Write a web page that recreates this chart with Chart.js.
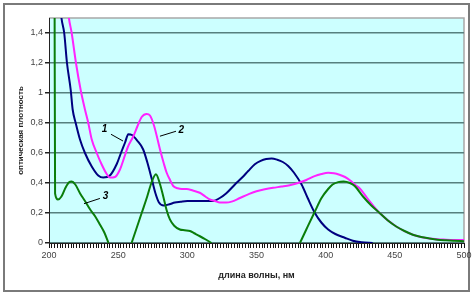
<!DOCTYPE html>
<html lang="ru">
<head>
  <meta charset="UTF-8">
  <title>Спектры поглощения</title>
  <script src="https://cdn.jsdelivr.net/npm/chart.js"></script>
  <style>
    body { margin: 0; background: #fff; }
    #wrap { width: 476px; height: 297px; }
  </style>
</head>
<body>
  <div id="wrap"><canvas id="spectra" width="476" height="297"></canvas></div>
  <script>
    // длина волны (нм) и оптическая плотность
    const wl1 = [206, 209, 211, 213, 215.7, 217.1, 219.3, 222.4, 226, 230.9, 235.6, 239.2, 244, 248.9, 252, 255, 257.3, 260, 264, 268, 271, 274.2, 277, 279.5, 283, 287, 291, 295, 300, 310, 318.7, 323.5, 328, 334.4, 340, 344, 348.8, 353, 357, 360.9, 365, 369, 372.9, 377, 382.6, 387, 392.2, 397, 401.8, 407, 413.8, 419.6, 426, 434];
    const od1 = [1.8, 1.5, 1.4, 1.2, 1.02, 0.89, 0.8, 0.69, 0.6, 0.51, 0.45, 0.436, 0.45, 0.525, 0.6, 0.67, 0.725, 0.72, 0.68, 0.625, 0.54, 0.43, 0.33, 0.27, 0.25, 0.258, 0.27, 0.275, 0.28, 0.28, 0.28, 0.3, 0.33, 0.39, 0.44, 0.48, 0.525, 0.548, 0.56, 0.563, 0.555, 0.54, 0.514, 0.47, 0.39, 0.3, 0.2, 0.135, 0.09, 0.06, 0.035, 0.015, 0.005, 0];

    const wl2 = [211, 214.4, 216.4, 219.5, 222.9, 226, 228.4, 230.9, 234.5, 238, 241.7, 244, 247.7, 251.3, 254, 257, 260.9, 264, 267, 270.6, 273, 276, 280.2, 283, 285, 287.5, 289.8, 293, 296, 299.5, 304, 309, 313, 316.3, 320, 323.5, 328, 332, 338, 344, 350, 356, 362, 368, 374, 380, 386, 392, 397, 401.8, 406, 410, 414, 418, 421, 425, 430, 439, 451, 463, 475, 487, 500];
    const od2 = [1.8, 1.5, 1.4, 1.2, 1.02, 0.89, 0.8, 0.69, 0.6, 0.525, 0.46, 0.436, 0.44, 0.49, 0.56, 0.64, 0.71, 0.78, 0.84, 0.86, 0.85, 0.78, 0.625, 0.53, 0.47, 0.42, 0.38, 0.365, 0.36, 0.36, 0.35, 0.335, 0.31, 0.29, 0.28, 0.27, 0.27, 0.276, 0.3, 0.324, 0.345, 0.358, 0.368, 0.376, 0.385, 0.4, 0.42, 0.446, 0.46, 0.468, 0.465, 0.455, 0.44, 0.415, 0.39, 0.36, 0.3, 0.2, 0.11, 0.055, 0.03, 0.022, 0.02];

    const wl3 = [204, 204.4, 206.5, 209, 212, 214.5, 216.4, 219, 222.5, 226, 230, 233.2, 237, 240, 243, 250,
                 259.7, 263, 267, 271, 274, 277.3, 280, 282.6, 285, 287.4, 290.5, 294.6, 298, 301.9, 305, 309.1, 313, 317.5, 350,
                 381.4, 386, 392.2, 397, 401.8, 405, 409, 413, 417.5, 421, 427, 433, 439, 445, 451, 457, 463, 469, 475, 481, 487, 493, 500];
    const od3 = [1.8, 0.33, 0.29, 0.31, 0.37, 0.405, 0.41, 0.39, 0.33, 0.28, 0.22, 0.18, 0.12, 0.07, 0, null,
                 0, 0.09, 0.2, 0.31, 0.4, 0.458, 0.4, 0.31, 0.22, 0.157, 0.115, 0.09, 0.085, 0.08, 0.065, 0.045, 0.025, 0, null,
                 0, 0.09, 0.21, 0.3, 0.36, 0.39, 0.406, 0.41, 0.4, 0.38, 0.31, 0.25, 0.2, 0.15, 0.11, 0.08, 0.055, 0.04, 0.03, 0.022, 0.018, 0.015, 0.012];

    // номера кривых и выноски (в единицах данных)
    const curveLabels = [
      { text: '1', tx: 240.2, ty: 0.76, x1: 244.8, y1: 0.725, x2: 253.5, y2: 0.68 },
      { text: '2', tx: 295.6, ty: 0.755, x1: 280.2, y1: 0.712, x2: 291.8, y2: 0.745 },
      { text: '3', tx: 240.8, ty: 0.31, x1: 225.3, y1: 0.262, x2: 236.8, y2: 0.297 }
    ];

    const xTitle = 'длина волны, нм';
    const yTitle = 'оптическая плотность';

    const pts = (xs, ys) => xs.map((x, i) => ({ x: x, y: ys[i] }));

    const frame = {
      id: 'frame',
      beforeDraw(chart) {
        const c = chart.ctx, a = chart.chartArea;
        c.save();
        c.fillStyle = '#fff';
        c.fillRect(0, 0, chart.width, chart.height);
        c.strokeStyle = '#7a7a7a';
        c.lineWidth = 2;
        c.strokeRect(4, 4, 465, 287);
        c.fillStyle = '#ccffff';
        c.fillRect(a.left, a.top, a.right - a.left, a.bottom - a.top);
        c.strokeStyle = '#a8a8a8';
        c.lineWidth = 1.5;
        c.beginPath();
        c.moveTo(a.left, a.top);
        c.lineTo(a.right, a.top);
        c.lineTo(a.right, a.bottom);
        c.stroke();
        c.restore();
      },
      afterDatasetsDraw(chart) {
        const c = chart.ctx, xs = chart.scales.x, ys = chart.scales.y;
        c.save();
        c.strokeStyle = '#000';
        c.lineWidth = 1;
        c.fillStyle = '#000';
        c.font = 'italic bold 10px "Liberation Sans", Arial, sans-serif';
        c.textAlign = 'center';
        c.textBaseline = 'middle';
        curveLabels.forEach(l => {
          c.beginPath();
          c.moveTo(xs.getPixelForValue(l.x1), ys.getPixelForValue(l.y1));
          c.lineTo(xs.getPixelForValue(l.x2), ys.getPixelForValue(l.y2));
          c.stroke();
          c.fillText(l.text, xs.getPixelForValue(l.tx), ys.getPixelForValue(l.ty));
        });
        c.restore();
      }
    };

    const tickFont = { family: '"Liberation Sans", Arial, sans-serif', size: 9 };

    new Chart(document.getElementById('spectra'), {
      type: 'line',
      data: {
        datasets: [
          { label: '3', data: pts(wl3, od3), borderColor: '#0a7d0a', order: 1 },
          { label: '2', data: pts(wl2, od2), borderColor: '#ff22ff', order: 2 },
          { label: '1', data: pts(wl1, od1), borderColor: '#000080', order: 3 }
        ]
      },
      options: {
        responsive: false,
        animation: false,
        spanGaps: false,
        layout: { padding: { left: 0, top: 18, right: 12, bottom: 0 } },
        elements: {
          point: { radius: 0 },
          line: { borderWidth: 2, cubicInterpolationMode: 'monotone', fill: false }
        },
        plugins: { legend: { display: false }, tooltip: { enabled: false } },
        scales: {
          x: {
            type: 'linear',
            min: 200, max: 500,
            afterFit: s => { s.height = 54; },
            ticks: {
              stepSize: 2, maxTicksLimit: 200, autoSkip: false, maxRotation: 0, padding: 2,
              color: '#444', font: tickFont,
              callback: v => (v % 50 === 0 ? String(v) : '')
            },
            grid: { display: true, drawTicks: true, drawOnChartArea: false, tickLength: 5, tickColor: '#111', tickWidth: 1 },
            border: { color: '#222', width: 1 },
            title: {
              display: true, text: xTitle, color: '#222',
              font: { family: '"Liberation Sans", Arial, sans-serif', size: 9, weight: 'bold' },
              padding: { top: 0, bottom: 16 }
            }
          },
          y: {
            min: 0, max: 1.5,
            afterFit: s => { s.width = 49; },
            afterBuildTicks: s => { s.ticks = s.ticks.filter(t => t.value < 1.45); },
            ticks: {
              stepSize: 0.2, padding: 2, color: '#444', font: tickFont,
              callback: v => String(Math.round(v * 10) / 10).replace('.', ',')
            },
            grid: { color: '#56807f', lineWidth: 1.5, tickLength: 4, tickColor: '#222' },
            border: { color: '#222', width: 1 },
            title: {
              display: true, text: yTitle, color: '#222',
              font: { family: '"Liberation Sans", Arial, sans-serif', size: 8, weight: 'bold' },
              padding: { top: 16, bottom: 0 }
            }
          }
        }
      },
      plugins: [frame]
    });
  </script>
</body>
</html>
